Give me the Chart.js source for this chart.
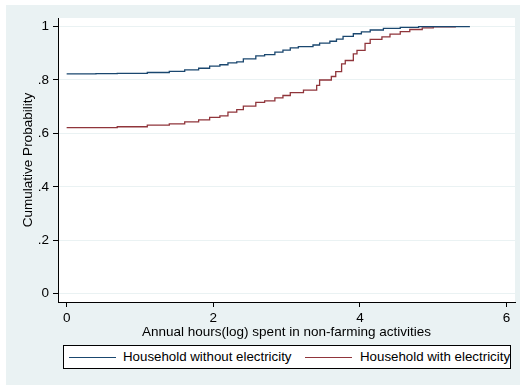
<!DOCTYPE html>
<html>
<head>
<meta charset="utf-8">
<script src="https://cdn.jsdelivr.net/npm/chart.js@4.4.1/dist/chart.umd.min.js"></script>
<style>
  html, body { margin: 0; padding: 0; background: #ffffff; }
  #wrap { position: relative; width: 525px; height: 385px; overflow: hidden; }
  #c { position: absolute; left: 0; top: 0; }
  #legend {
    position: absolute; left: 63px; top: 345px; width: 446px; height: 22px;
    border: 1px solid #000; background: #fff;
    font-family: "Liberation Sans", Arial, sans-serif; font-size: 13.3px; color: #000;
  }
  .item { position: absolute; top: 0; height: 22px; line-height: 22px; white-space: nowrap; }
  .swatch { position: absolute; top: 11px; width: 47px; height: 0; border-top: 1.2px solid; }
</style>
</head>
<body>
<div id="wrap">
  <canvas id="c" width="525" height="385"></canvas>
  <div id="legend"></div>
</div>
<script>
// ---- data ----
const seriesNames = ["Household without electricity", "Household with electricity"];
const seriesColors = ["#1a476f", "#90353b"];

const xNoElec = [0, 0.40, 0.69, 1.10, 1.40, 1.61, 1.80, 1.95, 2.09, 2.20, 2.32, 2.41, 2.58, 2.70, 2.84, 2.95, 3.05, 3.16, 3.36, 3.45, 3.59, 3.68, 3.77, 3.91, 4.02, 4.14, 4.32, 4.55, 4.80, 5.50];
const yNoElec = [0.823, 0.824, 0.825, 0.828, 0.832, 0.838, 0.844, 0.852, 0.857, 0.864, 0.868, 0.879, 0.890, 0.895, 0.904, 0.912, 0.920, 0.925, 0.931, 0.938, 0.945, 0.953, 0.963, 0.973, 0.980, 0.987, 0.993, 0.997, 1.0, 1.0];

const xElec = [0, 0.69, 1.10, 1.40, 1.61, 1.80, 1.95, 2.09, 2.20, 2.32, 2.41, 2.58, 2.70, 2.84, 2.95, 3.05, 3.23, 3.41, 3.45, 3.61, 3.67, 3.75, 3.80, 3.91, 3.96, 4.07, 4.14, 4.30, 4.41, 4.55, 4.68, 4.85, 5.00, 5.30];
const yElec = [0.622, 0.625, 0.631, 0.636, 0.643, 0.651, 0.660, 0.666, 0.680, 0.689, 0.702, 0.716, 0.722, 0.733, 0.742, 0.753, 0.762, 0.780, 0.800, 0.813, 0.831, 0.860, 0.873, 0.898, 0.911, 0.937, 0.952, 0.961, 0.972, 0.981, 0.989, 0.995, 0.999, 1.0];

const xTicks = [0, 2, 4, 6];
const xTickLabels = ["0", "2", "4", "6"];
const yTicks = [0, 0.2, 0.4, 0.6, 0.8, 1];
const yTickLabels = ["0", ".2", ".4", ".6", ".8", "1"];

const xTitle = "Annual hours(log) spent in non-farming activities";
const yTitle = "Cumulative Probability";

// ---- build ----
const toPts = (xs, ys) => xs.map((x, i) => ({x: x, y: ys[i]}));
const FONT = "'Liberation Sans', Arial, sans-serif";

const bgPlugin = {
  id: 'bg',
  beforeDraw(chart) {
    const {ctx, chartArea: a} = chart;
    ctx.save();
    ctx.fillStyle = '#ffffff';
    ctx.fillRect(0, 0, chart.width, chart.height);
    ctx.fillStyle = '#eaf2f3';
    ctx.fillRect(6, 5, 514, 380);
    ctx.fillStyle = '#ffffff';
    ctx.fillRect(a.left, a.top, a.right - a.left, a.bottom - a.top);
    ctx.restore();
  }
};

new Chart(document.getElementById('c'), {
  type: 'line',
  data: {
    datasets: [
      { label: seriesNames[0], data: toPts(xNoElec, yNoElec), borderColor: seriesColors[0], borderWidth: 1.3, pointRadius: 0, stepped: 'before', fill: false },
      { label: seriesNames[1], data: toPts(xElec, yElec), borderColor: seriesColors[1], borderWidth: 1.3, pointRadius: 0, stepped: 'before', fill: false }
    ]
  },
  options: {
    responsive: false,
    animation: false,
    devicePixelRatio: 1,
    layout: { padding: { left: 0, top: 18, right: 10, bottom: 46 } },
    plugins: { legend: { display: false }, tooltip: { enabled: false } },
    scales: {
      x: {
        type: 'linear',
        min: -0.118, max: 6.115,
        afterBuildTicks: s => { s.ticks = xTicks.map(v => ({value: v})); },
        afterFit: s => { s.height = 37; },
        ticks: {
          callback: (v) => xTickLabels[xTicks.indexOf(v)],
          color: '#000', font: { family: FONT, size: 13.5 }, padding: 3, maxRotation: 0
        },
        grid: { drawOnChartArea: false, drawTicks: true, tickLength: 5, tickColor: '#000', tickWidth: 1 },
        border: { display: true, color: '#000', width: 1 },
        title: { display: true, text: xTitle, color: '#000', font: { family: FONT, size: 13.5 }, padding: { top: 0, bottom: -1 } }
      },
      y: {
        type: 'linear',
        min: -0.031, max: 1.032,
        afterBuildTicks: s => { s.ticks = yTicks.map(v => ({value: v})); },
        afterFit: s => { s.width = 58; },
        ticks: {
          callback: (v) => yTickLabels[yTicks.indexOf(v)],
          color: '#000', font: { family: FONT, size: 13.5 }, padding: 4
        },
        grid: { drawOnChartArea: true, color: '#eaf2f3', lineWidth: 1, drawTicks: true, tickLength: 5, tickColor: '#000', tickWidth: 1 },
        border: { display: true, color: '#000', width: 1 },
        title: { display: true, text: yTitle, color: '#000', font: { family: FONT, size: 13.5 }, padding: { top: 20, bottom: 0 } }
      }
    }
  },
  plugins: [bgPlugin]
});

// legend (HTML)
const lg = document.getElementById('legend');
const swX = [5, 241], txX = [59, 296];
seriesNames.forEach((n, i) => {
  const sw = document.createElement('div');
  sw.className = 'swatch';
  sw.style.left = swX[i] + 'px';
  sw.style.borderTopColor = seriesColors[i];
  lg.appendChild(sw);
  const t = document.createElement('div');
  t.className = 'item';
  t.style.left = txX[i] + 'px';
  t.textContent = n;
  lg.appendChild(t);
});
</script>
</body>
</html>
